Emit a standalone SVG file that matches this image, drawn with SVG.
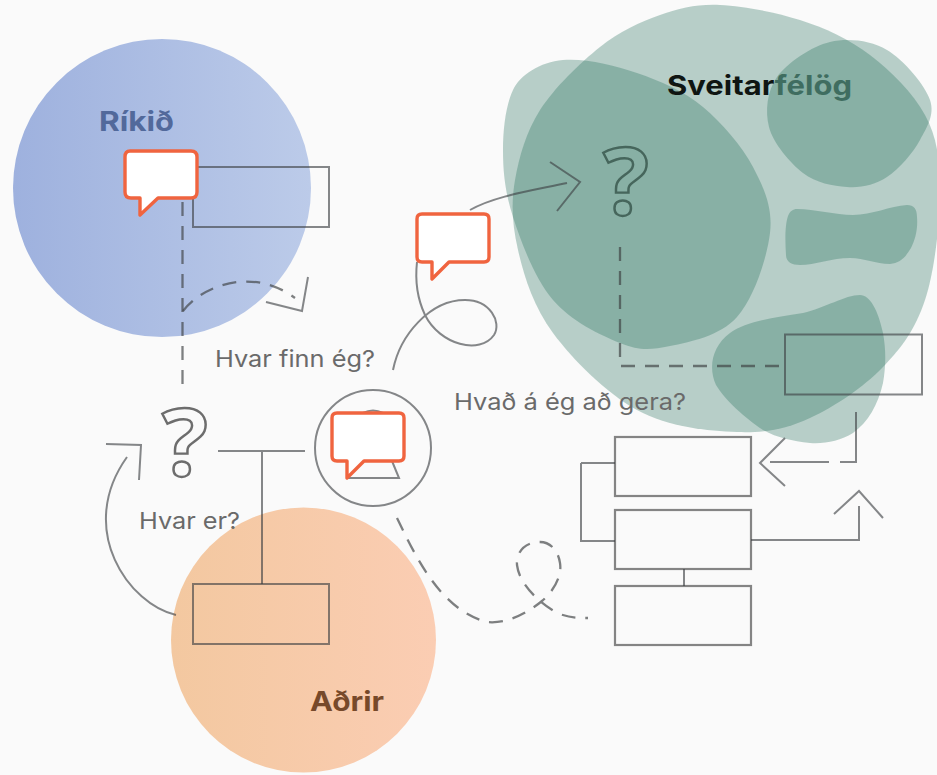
<svg xmlns="http://www.w3.org/2000/svg" width="937" height="775" viewBox="0 0 937 775">
<style>
.ln{fill:none;stroke:#3c3f42;stroke-opacity:.62;stroke-width:2}
.box{fill:none;stroke:#3c3f42;stroke-opacity:.62;stroke-width:2}
.wbox{fill:none;stroke:#666;stroke-opacity:.8;stroke-width:2.2}
.dash{fill:none;stroke:#3c3f42;stroke-opacity:.66;stroke-width:2.3;stroke-dasharray:14 10}
.bub{fill:#fff;stroke:#f0643f;stroke-width:3.4;stroke-linejoin:round}
.g{fill:#1f6a55;fill-opacity:.3}
.t{font-family:"Inter","Liberation Sans",sans-serif;font-size:23px;fill:#6a6a6a}
.h{font-family:"Inter","Liberation Sans",sans-serif;font-weight:700;font-size:27px}
.q{font-family:"Open Sans","Liberation Sans",sans-serif;font-weight:700;font-size:94px;fill:none;stroke-width:2.4}
</style>
<defs>
<linearGradient id="blue" x1="0" x2="1" y1="0" y2="0"><stop offset="0" stop-color="#9eb1de"/><stop offset="1" stop-color="#bccbe9"/></linearGradient>
<linearGradient id="orange" x1="0" x2="1" y1="0" y2="0"><stop offset="0" stop-color="#f3c8a0"/><stop offset="1" stop-color="#fbcdb3"/></linearGradient>
</defs>
<rect width="937" height="775" fill="#fafafa"/>

<g id="rikid">
<circle cx="162" cy="188" r="149" fill="url(#blue)"/>
<text class="h" x="99" y="131" fill="#52699b" textLength="75" lengthAdjust="spacingAndGlyphs">Ríkið</text>
<rect class="box" x="193" y="167" width="136" height="60"/>
<path class="bub" d="M130,151 H191 Q197,151 197,157 V192 Q197,198 191,198 H158 L140,215 V198 H131 Q125,198 125,192 V157 Q125,151 130,151 Z"/>
</g>

<g id="sveitarfelog">
<path class="g" d="M720,5 C743,6 775,12 800,20 C825,28 849,39 870,55 C891,71 913,93 925,115 C937,137 940,159 940,190 C940,221 935,270 925,300 C915,330 902,347 883,367 C864,387 834,407 810,418 C786,429 766,433 737,432 C708,431 668,427 637,410 C606,393 573,360 553,333 C533,306 524,276 518,250 C512,224 511,203 515,180 C519,157 526,132 540,110 C554,88 580,63 600,47 C620,31 640,22 660,15 C680,8 697,4 720,5 Z"/>
<path class="g" d="M563,60 C584,58 614,65 637,73 C660,81 684,91 703,107 C722,123 742,146 753,167 C764,188 773,208 770,233 C767,258 754,298 737,317 C720,336 690,342 670,346 C650,350 640,351 620,343 C600,335 571,321 553,300 C535,279 521,242 513,217 C505,192 503,172 503,150 C503,128 506,105 513,90 C520,75 540,62 563,60 Z"/>
<path class="g" d="M830,42 C848,38 870,40 887,50 C904,60 925,85 930,100 C935,115 927,127 920,140 C913,153 899,169 887,177 C875,185 861,188 847,187 C833,186 816,183 803,173 C790,163 773,143 769,127 C765,111 767,91 777,77 C787,63 812,46 830,42 Z"/>
<path class="g" d="M797,209 C815,209 835,215 853,215 C872,215 890,206 907,205 C914,205 917,209 917,217 C918,230 915,240 911,248 C905,258 900,263 890,264 C875,264 865,258 850,258 C832,258 815,265 800,265 C792,265 786,262 786,255 C785,240 785,225 788,216 C790,211 793,209 797,209 Z"/>
<path class="g" d="M860,295 C870,295 878,310 883,333 C886,350 886,365 883,383 C878,405 868,422 853,433 C840,441 825,444 810,443 C792,441 778,438 763,430 C745,418 725,400 716,385 C708,368 712,346 730,333 C745,322 770,318 803,313 C825,308 845,295 860,295 Z"/>
<text class="h" x="667" y="95" textLength="185" lengthAdjust="spacingAndGlyphs"><tspan fill="#0f1512">Sveitar</tspan><tspan fill="#3f6d60">félög</tspan></text>
<rect class="box" x="785" y="334.500" width="137" height="60"/>
</g>

<g id="adrir">
<circle cx="303.500" cy="640" r="132.500" fill="url(#orange)"/>
<text class="h" x="310" y="711" fill="#77492a" textLength="74" lengthAdjust="spacingAndGlyphs">Aðrir</text>
<rect class="box" x="193" y="584" width="136" height="60"/>
</g>

<g id="q-boxes">
<rect class="wbox" x="615" y="437" width="136" height="59"/>
<rect class="wbox" x="615" y="510" width="136" height="59"/>
<rect class="wbox" x="615" y="586" width="136" height="59"/>
</g>

<g id="connectors">
<path class="dash" d="M182.500,202 V392"/>
<path class="dash" d="M183,311 C205,283 255,268 295,298" stroke-dasharray="13 10"/>
<path class="ln" d="M266,302 L302,311 L308,277"/>
<path class="ln" d="M393,370 C400,335 430,300 465,300 C490,300 502,322 494,335 C480,355 440,345 425,315 C417,298 415,280 417,262"/>
<path class="ln" d="M470,210 C495,196 530,191 567,183"/>
<path class="ln" d="M550,162 L580,182 L557,211"/>
<path class="dash" d="M620,247 V366 H780"/>
<path class="ln" d="M218,451 H305 M262,451 V584"/>
<path class="ln" d="M176,615 C130,605 75,530 127,457"/>
<path class="ln" d="M106,444 L141,445 L139,480"/>
<path class="dash" d="M397,518 C415,555 440,610 487,622 C505,624 525,615 542,601 C555,590 562,575 560,563 C558,550 550,542 540,542 C525,542 516,552 517,565 C519,582 535,600 557,613 C570,618 578,618 588,618" stroke-dasharray="13 11"/>
<path class="ln" d="M581,463 H615 M615,541 H581 V463"/>
<path class="ln" d="M684,569 V586"/>
<path class="ln" d="M751,540 H859 V506"/>
<path class="ln" d="M834,514 L859,491 L883,518"/>
<path class="ln" d="M856,412 V462 H840 M829,462 H770"/>
<path class="ln" d="M785,438 L760,463 L785,486"/>
</g>

<g id="q-left"><text class="q" x="162" y="476" stroke="#6d6d6d" textLength="46" lengthAdjust="spacingAndGlyphs">?</text></g>
<g id="q-green"><text class="q" x="603" y="215" stroke="#46665c" textLength="46" lengthAdjust="spacingAndGlyphs">?</text></g>

<g id="bubble-mid">
<path class="bub" d="M422,214 H484 Q489,214 489,219 V257 Q489,262 484,262 H449 L432,279 V262 H422 Q417,262 417,257 V219 Q417,214 422,214 Z"/>
</g>

<g id="person">
<circle class="ln" cx="373" cy="448" r="58"/>
<path class="ln" d="M363,413 Q373,408 383,413"/>
<path class="ln" d="M392,461 L399,478 H348"/>
<path class="bub" d="M337,413 H399 Q404,413 404,418 V456 Q404,461 399,461 H364 L347,478 V461 H337 Q332,461 332,456 V418 Q332,413 337,413 Z"/>
</g>

<text class="t" x="215" y="367" textLength="160" lengthAdjust="spacingAndGlyphs">Hvar finn ég?</text>
<text class="t" x="454" y="410" textLength="232" lengthAdjust="spacingAndGlyphs">Hvað á ég að gera?</text>
<text class="t" x="139" y="529" textLength="101" lengthAdjust="spacingAndGlyphs">Hvar er?</text>
</svg>
